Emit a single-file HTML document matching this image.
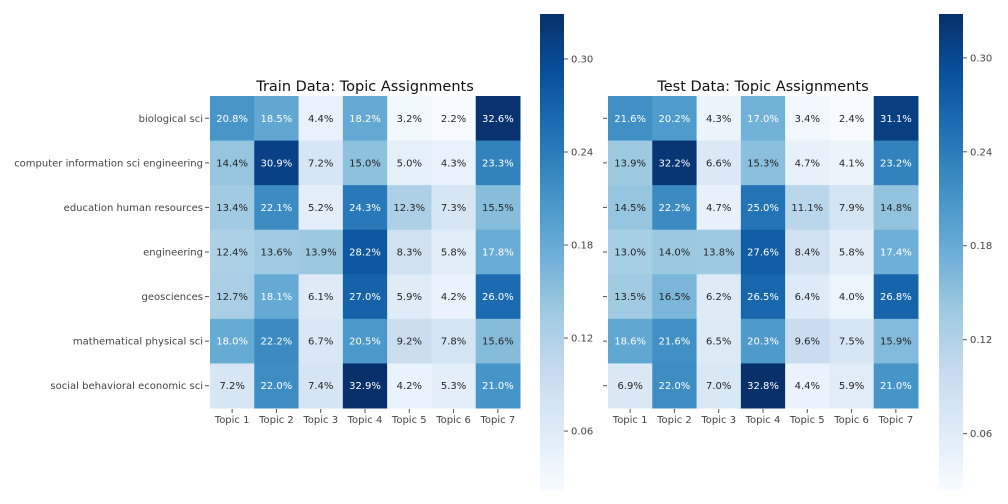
<!DOCTYPE html>
<html><head><meta charset="utf-8"><style>
body{margin:0;background:#fff;}
svg{display:block;font-family:"DejaVu Sans","Liberation Sans",sans-serif;}
</style></head><body>
<svg id="c" width="1008" height="504"></svg>
<script>
const categories=["biological sci","computer information sci engineering","education human resources","engineering","geosciences","mathematical physical sci","social behavioral economic sci"];
const topics=["Topic 1","Topic 2","Topic 3","Topic 4","Topic 5","Topic 6","Topic 7"];
const trainValues=[
[20.8,18.5,4.4,18.2,3.2,2.2,32.6],
[14.4,30.9,7.2,15.0,5.0,4.3,23.3],
[13.4,22.1,5.2,24.3,12.3,7.3,15.5],
[12.4,13.6,13.9,28.2,8.3,5.8,17.8],
[12.7,18.1,6.1,27.0,5.9,4.2,26.0],
[18.0,22.2,6.7,20.5,9.2,7.8,15.6],
[7.2,22.0,7.4,32.9,4.2,5.3,21.0]];
const testValues=[
[21.6,20.2,4.3,17.0,3.4,2.4,31.1],
[13.9,32.2,6.6,15.3,4.7,4.1,23.2],
[14.5,22.2,4.7,25.0,11.1,7.9,14.8],
[13.0,14.0,13.8,27.6,8.4,5.8,17.4],
[13.5,16.5,6.2,26.5,6.4,4.0,26.8],
[18.6,21.6,6.5,20.3,9.6,7.5,15.9],
[6.9,22.0,7.0,32.8,4.4,5.9,21.0]];
const cbTicks=[0.06,0.12,0.18,0.24,0.30];
const stops=["#f7fbff","#deebf7","#c6dbef","#9ecae1","#6baed6","#4292c6","#2171b5","#08519c","#08306b"];
const NS="http://www.w3.org/2000/svg";
const svg=document.getElementById('c');
function el(t,a,p){const e=document.createElementNS(NS,t);for(const k in a)e.setAttribute(k,a[k]);(p||svg).appendChild(e);return e;}
function hex(h){return [1,3,5].map(i=>parseInt(h.substr(i,2),16));}
function cmap(t){t=Math.max(0,Math.min(1,t));const s=t*(stops.length-1),i=Math.min(Math.floor(s),stops.length-2),f=s-i;const a=hex(stops[i]),b=hex(stops[i+1]);return a.map((v,k)=>Math.round(v+(b[k]-v)*f));}
function lum(c){const l=c.map(v=>{v/=255;return v<=0.03928?v/12.92:Math.pow((v+0.055)/1.055,2.4);});return 0.2126*l[0]+0.7152*l[1]+0.0722*l[2];}
const defs=el('defs',{});
const g=el('linearGradient',{id:'cb',x1:0,y1:1,x2:0,y2:0},defs);
stops.forEach((s,i)=>el('stop',{offset:i/(stops.length-1),'stop-color':s},g));
function panel(x0,values,title,showLabels,cbx,name){
  const flat=values.flat().map(v=>v/100);const vmin=Math.min(...flat),vmax=Math.max(...flat);
  const y0=96,W=310,H=312,cw=W/7,ch=H/7;
  const grp=el('g',{});  
  const tt=el('text',{x:x0+W/2,y:y0-5,'text-anchor':'middle','font-size':14.5,fill:'#111'},grp);tt.textContent=title;
  
  values.forEach((row,r)=>row.forEach((v,c)=>{
    const col=cmap((v/100-vmin)/(vmax-vmin));
    const rc=el('rect',{x:x0+c*cw,y:y0+r*ch,width:cw+0.5,height:ch+0.5,fill:`rgb(${col})`},grp);
    
    const t=el('text',{x:x0+c*cw+cw/2,y:y0+r*ch+ch/2+3.5,'text-anchor':'middle','font-size':10,fill:lum(col)>0.408?'#262626':'#fff'},grp);
    t.textContent=v.toFixed(1)+'%';
  }));
  categories.forEach((cat,r)=>{
    const y=y0+r*ch+ch/2;
    el('line',{x1:x0-5,x2:x0-1,y1:y,y2:y},grp);
    if(showLabels){const t=el('text',{x:x0-7,y:y+3.5,'text-anchor':'end','font-size':10,fill:'#444'},grp);t.textContent=cat;
    }
  });
  topics.forEach((tp,c)=>{
    const x=x0+c*cw+cw/2;
    el('line',{x1:x,x2:x,y1:y0+H+1,y2:y0+H+5},grp);
    const t=el('text',{x:x,y:y0+H+15,'text-anchor':'middle','font-size':10,fill:'#444'},grp);t.textContent=tp;
    
  });
  grp.querySelectorAll('line').forEach(l=>l.setAttribute('stroke','#555'));
  const cy0=14,cy1=490;
  const cb=el('rect',{x:cbx,y:cy0,width:24,height:cy1-cy0,fill:'url(#cb)'},grp);
  
  cbTicks.forEach(tv=>{
    const y=cy1-(tv-vmin)/(vmax-vmin)*(cy1-cy0);
    el('line',{x1:cbx+24,x2:cbx+28,y1:y,y2:y,stroke:'#555'},grp);
    const t=el('text',{x:cbx+31,y:y+3.5,'font-size':10,fill:'#444'},grp);t.textContent=tv.toFixed(2);
    
  });
}
panel(210,trainValues,"Train Data: Topic Assignments",true,540,'train-heatmap');
panel(608,testValues,"Test Data: Topic Assignments",false,939,'test-heatmap');
</script>
</body></html>
